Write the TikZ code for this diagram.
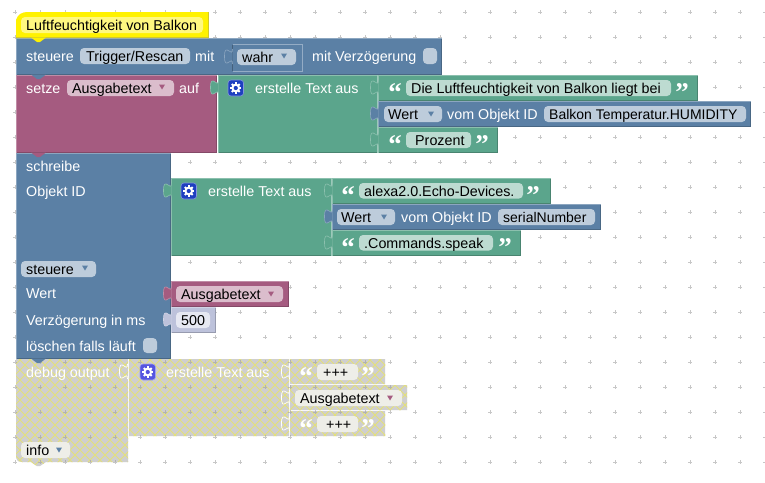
\documentclass[tikz,border=0pt]{standalone}
\usepackage{fontspec}
\setmainfont{Liberation Sans}
\newfontfamily\qfont{Liberation Serif}
\definecolor{cblue}{HTML}{5B80A5}
\definecolor{cpink}{HTML}{A55B80}
\definecolor{cgreen}{HTML}{5BA58C}
\definecolor{cnum}{HTML}{BDC2DB}
\definecolor{fblue}{HTML}{BDCCDB}
\definecolor{fpink}{HTML}{DBBDCC}
\definecolor{fgreen}{HTML}{BDDBD1}
\definecolor{fnum}{HTML}{E6E8F2}
\definecolor{fdis}{HTML}{EEEEE8}
\definecolor{hbg}{HTML}{CFCFCF}
\definecolor{hline}{HTML}{E4E07A}
\definecolor{cgear}{HTML}{1E3FC0}
\definecolor{cgeard}{HTML}{5555E0}
\tikzset{
  lab/.style={anchor=base west,inner sep=0pt,font=\fontsize{14.3}{16}\selectfont,text=white},
  val/.style={lab,text=black},
  tight/.style={font=\fontsize{14}{16}\selectfont},
  quot/.style={anchor=base,inner sep=0pt,font=\qfont\bfseries\fontsize{27}{28}\selectfont,text=white},
  plusmark/.style={draw=black!22,line width=.6pt},
  fieldbox/.style={rounded corners=4pt},
}
% block: x1 y1 x2 y2 colour
\newcommand{\blk}[5]{%
  \fill[#5] (#1,#2) rectangle (#3,#4);
  \draw[#5!80!black,line width=.8pt] (#1,#4-.4) -- (#3-.4,#4-.4) -- (#3-.4,#2);
  \draw[#5!70!white,line width=.6pt] (#1+.3,#4) -- (#1+.3,#2+.3) -- (#3,#2+.3);}
% light seam on a parent's right edge
\newcommand{\seam}[4]{\draw[#4!60!white,line width=.9pt] (#1-.4,#2) -- (#1-.4,#3);}
% left tab
\newcommand{\tabpath}[2]{(#1,#2+5) .. controls (#1,#2+15) and (#1-8,#2-3) .. (#1-8,#2+12.5) .. controls (#1-8,#2+28) and (#1,#2+10) .. (#1,#2+20)}
\newcommand{\tabL}[3]{\fill[#3] \tabpath{#1+.5}{#2} -- cycle;\draw[#3!70!white,line width=.6pt] \tabpath{#1+.5}{#2};}
% statement notch
\newcommand{\notch}[2]{\fill[#2] (31,#1-.5) -- (37,#1+4) -- (40,#1+4) -- (46,#1-.5) -- cycle;}
% field
\newcommand{\fld}[5]{\fill[#5,fieldbox] (#1,#2) rectangle (#3,#4);}
% drop arrow
\newcommand{\arr}[3]{\fill[#3] (#1-3,#2-2.5) -- (#1+3,#2-2.5) -- (#1,#2+2.5) -- cycle;}
% text
\newcommand{\tx}[4]{\node[lab] (#1) at (#2,#3) {#4};}
\newcommand{\vl}[4]{\node[val] (#1) at (#2,#3) {#4};}
% quotes
\newcommand{\qq}[4]{\node[quot] (#1o) at (#2,#4+14) {“};\node[quot] (#1c) at (#3,#4+14) {”};}
% gear
\newcommand{\gear}[3]{%
  \filldraw[fill=#3,draw=#3!55!white,line width=.6pt,rounded corners=3pt] (#1,#2) rectangle (#1+15.5,#2+16);
  \foreach \a in {0,45,...,315}{\draw[white,line width=2.1pt] ([shift={(\a:3pt)}]#1+7.75,#2+8) -- ([shift={(\a:5.6pt)}]#1+7.75,#2+8);}
  \fill[white] (#1+7.75,#2+8) circle (4.4pt);
  \fill[#3] (#1+7.75,#2+8) circle (2.1pt);}
\begin{document}
\begin{tikzpicture}[x=1pt,y=-1pt]
\useasboundingbox (0,0) rectangle (765,482);
\fill[white] (0,0) rectangle (765,482);
% grid
\foreach \i in {0,...,30}{\foreach \j in {0,...,18}{
  \draw[plusmark] (15+25*\i-2,12+25*\j) -- +(4,0) (15+25*\i,12+25*\j-2) -- +(0,4);}}

% --- disabled blocks
\begin{scope}
\clip (16,359) -- (128,359) -- (128,462) -- (46,462) -- (40,466) -- (37,466) -- (31,462) -- (22,462) .. controls (18,462) and (16,460) .. (16,456) -- cycle
 (129,359) rectangle (289,436)
 (290,359) rectangle (385,384)
 (290,385) rectangle (407,410)
 (290,411) rectangle (385,436);
\fill[hbg] (0,340) rectangle (420,480);
\foreach \k in {0,...,60}{
  \draw[hline,line width=.75pt] (-120+10*\k,480) -- +(140,-140);
  \draw[hline,line width=.75pt] (-120+10*\k,340) -- +(140,140);}
\foreach \i in {0,...,16}{\foreach \j in {14,...,18}{
  \draw[plusmark,draw=black!30] (15+25*\i-2,12+25*\j) -- +(4,0) (15+25*\i,12+25*\j-2) -- +(0,4);}}
\end{scope}
\foreach \xx/\yy in {128/364,290/364,290/390,290/416}{
  \draw[white,line width=.7pt] \tabpath{\xx-.5}{\yy-5};}
\fld{21}{442}{70}{458}{fdis}
\fld{317}{364}{358}{380}{fdis}
\fld{295}{390}{402}{406}{fdis}
\fld{317}{416}{358}{432}{fdis}
\gear{140}{364}{cgeard}
\tx{d1}{26}{377}{debug output}
\tx{d2}{166}{377}{erstelle Text aus}
\vl{d3}{323}{377}{+++}
\vl{d4}{300}{403}{Ausgabetext}
\vl{d5}{326}{429}{+++}
\vl{d6}{26}{455}{info}
\arr{59}{450}{cblue}
\arr{390}{398}{cpink}
\qq{dq1}{306}{368}{371}
\qq{dq2}{306}{368}{423}

% --- schreibe block
\blk{16}{153}{171}{359}{cblue}
\notch{359}{cblue}
\tx{s1}{26}{171}{schreibe}
\tx{s2}{26}{196}{Objekt ID}
\fld{21}{261}{96}{277}{fblue}
\vl{s3}{26}{274}{steuere}
\arr{85}{268}{cblue}
\tx{s4}{26}{298}{Wert}
\tx{s5}{26}{325}{Verzögerung in ms}
\tx{s6}{26}{351}{löschen falls läuft}
\fld{143}{338}{157}{353}{fblue}

% green text 2
\blk{171}{178}{332}{256}{cgreen}
\seam{332}{178}{256}{cgreen}
\tabL{171}{178}{cgreen}
\gear{181}{183}{cgear}
\tx{t1}{208}{196}{erstelle Text aus}
\blk{332}{178}{551}{204}{cgreen}
\tabL{332}{178}{cgreen}
\fld{359}{183}{523}{198.5}{fgreen}
\vl{t2}{364}{196}{alexa2.0.Echo-Devices.}
\qq{tq1}{348}{533}{190}
\blk{332}{204}{601}{230}{cblue}
\tabL{332}{204}{cblue}
\fld{337}{209}{395}{225}{fblue}
\vl{t3}{341}{222}{Wert}
\arr{384}{217}{cblue}
\tx{t4}{401}{222}{vom Objekt ID}
\fld{498}{209}{595}{225}{fblue}
\node[val,tight] (t5) at (503,222) {serialNumber};
\blk{332}{230}{521}{256}{cgreen}
\tabL{332}{230}{cgreen}
\fld{359}{235}{493}{250.5}{fgreen}
\vl{t6}{364}{248}{.Commands.speak}
\qq{tq2}{348}{505}{242}

% Ausgabetext var
\blk{171}{281}{289}{307}{cpink}
\tabL{171}{281}{cpink}
\fld{176}{286}{283}{302}{fpink}
\vl{v1}{181}{299}{Ausgabetext}
\arr{271}{294}{cpink}
% 500
\blk{171}{307}{216}{333}{cnum}
\tabL{171}{307}{cnum}
\fld{176}{312}{210}{328}{fnum}
\vl{n1}{181}{325}{500}

% --- setze
\blk{16}{75}{217}{153}{cpink}
\notch{153}{cpink}
\tx{p1}{26}{93}{setze}
\fld{67}{80}{174}{96}{fpink}
\vl{p2}{72}{93}{Ausgabetext}
\arr{162}{87}{cpink}
\tx{p3}{179}{93}{auf}
\blk{218}{75}{378}{153}{cgreen}
\seam{378}{75}{153}{cgreen}
\tabL{218}{75}{cgreen}
\gear{228}{80}{cgear}
\tx{g1}{255}{93}{erstelle Text aus}
\blk{378}{75}{698}{101}{cgreen}
\tabL{378}{75}{cgreen}
\fld{406}{80}{671}{96}{fgreen}
\vl{g2}{411}{93}{Die Luftfeuchtigkeit von Balkon liegt bei}
\qq{gq1}{395}{682}{87}
\blk{378}{101}{751}{127}{cblue}
\tabL{378}{101}{cblue}
\fld{384}{106}{442}{122}{fblue}
\vl{g3}{388}{119}{Wert}
\arr{431}{114}{cblue}
\tx{g4}{447}{119}{vom Objekt ID}
\fld{544}{106}{746}{122}{fblue}
\node[val,tight] (g5) at (549,119) {Balkon Temperatur.HUMIDITY};
\blk{378}{127}{498}{153}{cgreen}
\tabL{378}{127}{cgreen}
\fld{406}{132}{471}{148}{fgreen}
\vl{g6}{415}{145}{Prozent}
\qq{gq2}{395}{482}{139}

% --- steuere
\blk{16}{38}{442}{75}{cblue}
\notch{75}{cblue}
\tx{b1}{26}{61}{steuere}
\fld{80}{48}{190}{64}{fblue}
\vl{b2}{86}{61}{Trigger/Rescan}
\tx{b3}{195}{61}{mit}
\draw[cblue!65!white,line width=.7pt] (232.5,71) -- (302,71) -- (302,44) -- (232.5,44);
\draw[cblue!75!black,line width=.7pt] (232.5,44.5) -- (232.5,71);
\tabL{232}{44}{cblue}
\fld{237}{49}{296}{65}{fblue}
\vl{b4}{242}{62}{wahr}
\arr{284}{56}{cblue}
\tx{b5}{312}{61}{mit Verzögerung}
\fld{423}{48}{437}{64}{fblue}

% --- hat
\fill[yellow] (16,38) -- (16,20) .. controls (18,14) and (22,12) .. (28,12) -- (208,12) -- (208,38) -- cycle;
\draw[yellow!80!black,line width=.8pt] (208,12) -- (208,37.6) -- (16,37.6);
\notch{38}{yellow}
\fld{21}{17}{203}{33}{yellow!50!white}
\vl{h1}{26}{30}{Luftfeuchtigkeit von Balkon}
\end{tikzpicture}
\end{document}
